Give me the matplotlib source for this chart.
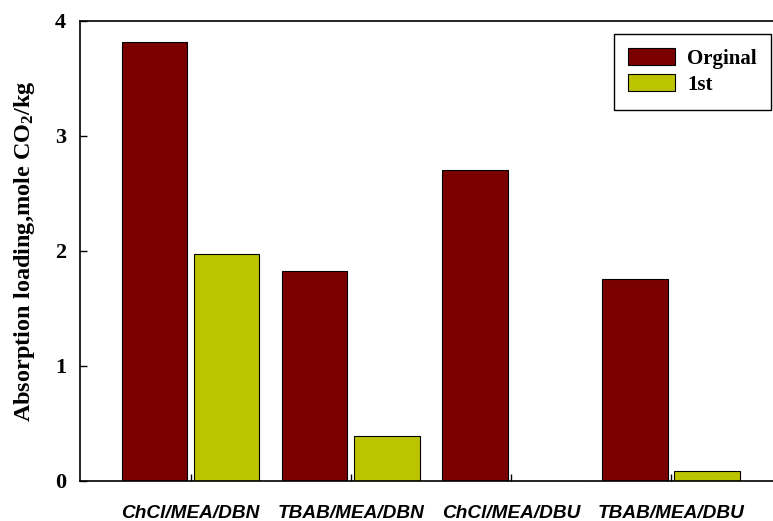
import matplotlib
matplotlib.use("Agg")
import matplotlib.pyplot as plt
import numpy as np

# CO2 absorption loading per solvent, fresh vs first regeneration cycle
solvents = ["ChCl/MEA/DBN", "TBAB/MEA/DBN", "ChCl/MEA/DBU", "TBAB/MEA/DBU"]
original = [3.82, 1.83, 2.70, 1.76]
first_cycle = [1.97, 0.39, 0.0, 0.09]
series_names = ["Orginal", "1st"]
yticks = [0, 1, 2, 3, 4]

plt.rcParams["mathtext.fontset"] = "custom"
plt.rcParams["mathtext.rm"] = "Liberation Serif:bold"
plt.rcParams["mathtext.default"] = "rm"

fig = plt.figure(figsize=(7.73, 5.21), dpi=100)
ax = fig.add_axes([0.1035, 0.0768, 0.9095, 0.8829])

x = np.arange(len(solvents))
w = 0.41
gap = 0.02
ax.bar(x - w / 2 - gap, original, w, color="#7a0000", edgecolor="black",
       linewidth=0.8, label=series_names[0])
ax.bar(x + w / 2 + gap, first_cycle, w, color="#bcc400", edgecolor="black",
       linewidth=0.8, label=series_names[1])

ax.set_xlim(-0.69, 3.7)
ax.set_ylim(0, 4)
ax.set_yticks(yticks)
ax.set_yticklabels([str(t) for t in yticks], fontfamily="Liberation Serif",
                   fontweight="bold", fontsize=16)
ax.set_xticks(x)
ax.set_xticklabels(solvents, fontfamily="Liberation Sans",
                   fontweight="bold", fontstyle="italic", fontsize=13.7)
ax.tick_params(axis="y", direction="in", length=5, width=1, pad=10)
ax.tick_params(axis="x", direction="in", length=5, width=1, pad=17.5)
for s in ax.spines.values():
    s.set_linewidth(1.2)

ax.set_ylabel("Absorption loading,mole CO$_2$/kg", fontfamily="Liberation Serif",
              fontweight="bold", fontsize=17.5, labelpad=13)

leg = ax.legend(loc="upper right", bbox_to_anchor=(0.983, 0.972),
                prop={"family": "Liberation Serif", "weight": "bold", "size": 15},
                fancybox=False, edgecolor="black", framealpha=1,
                handlelength=2.26, handleheight=0.87, handletextpad=0.55,
                borderpad=0.7, labelspacing=0.25, borderaxespad=0)
leg.get_frame().set_linewidth(1.0)

fig.savefig("out.png", dpi=100)
